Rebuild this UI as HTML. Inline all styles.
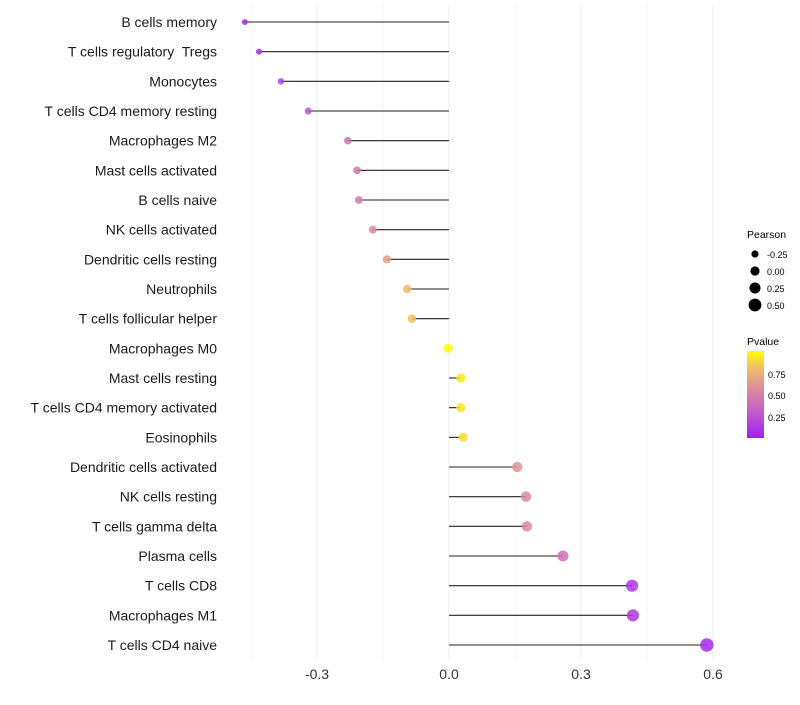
<!DOCTYPE html>
<html><head><meta charset="utf-8"><style>
body{margin:0;background:#fff;font-family:"Liberation Sans",sans-serif}
</style></head><body>
<svg id="chart" width="800" height="700" xmlns="http://www.w3.org/2000/svg" font-family="Liberation Sans, sans-serif">
<defs>
<linearGradient id="pg" x1="0" y1="1" x2="0" y2="0">
<stop offset="0" stop-color="#a020f0"/><stop offset="0.3" stop-color="#c35ccc"/><stop offset="0.55" stop-color="#d98a9e"/><stop offset="0.8" stop-color="#efbb6c"/><stop offset="1" stop-color="#ffff00"/>
</linearGradient>
</defs>
<g id="grid"></g><g id="marks"></g><g id="labels"></g>
<g font-size="10">
<text x="747" y="238" font-size="10.5">Pearson</text>
<circle cx="755" cy="254" r="3.6"/><text x="767" y="258" font-size="9">-0.25</text>
<circle cx="755" cy="271" r="4.6"/><text x="767" y="275" font-size="9">0.00</text>
<circle cx="755" cy="288" r="5.5"/><text x="767" y="292" font-size="9">0.25</text>
<circle cx="755" cy="305" r="6.4"/><text x="767" y="309" font-size="9">0.50</text>
</g>
<g>
<text x="747" y="345" font-size="10.5">Pvalue</text>
<rect x="747" y="351" width="17" height="87" fill="url(#pg)"/>
<text x="768" y="378" font-size="9">0.75</text>
<text x="768" y="399" font-size="9">0.50</text>
<text x="768" y="421" font-size="9">0.25</text>
</g>
</svg>
<script>
const categories=["B cells memory","T cells regulatory\u00a0 Tregs","Monocytes","T cells CD4 memory resting","Macrophages M2","Mast cells activated","B cells naive","NK cells activated","Dendritic cells resting","Neutrophils","T cells follicular helper","Macrophages M0","Mast cells resting","T cells CD4 memory activated","Eosinophils","Dendritic cells activated","NK cells resting","T cells gamma delta","Plasma cells","T cells CD8","Macrophages M1","T cells CD4 naive"];
const pearson=[-0.464,-0.432,-0.382,-0.320,-0.230,-0.209,-0.205,-0.173,-0.141,-0.095,-0.084,-0.002,0.027,0.027,0.032,0.155,0.175,0.177,0.259,0.416,0.418,0.586];
const pvalue=[0.04,0.08,0.15,0.25,0.42,0.45,0.46,0.55,0.65,0.8,0.82,0.99,0.93,0.92,0.9,0.6,0.55,0.55,0.42,0.1,0.12,0.05];
const tickVals=[-0.3,0.0,0.3,0.6];
const tickLabels=["-0.3","0.0","0.3","0.6"];
const NS="http://www.w3.org/2000/svg";
const x=v=>449+v*440;
const y=i=>22+i*(623/21);
const r=v=>4.6+v*3.6;
const stops=[[0,[160,32,240]],[0.3,[195,92,204]],[0.55,[217,138,158]],[0.8,[239,187,108]],[1,[255,255,0]]];
function col(p){for(let k=1;k<stops.length;k++){if(p<=stops[k][0]){const a=stops[k-1],b=stops[k],t=(p-a[0])/(b[0]-a[0]);return"rgb("+a[1].map((c,j)=>Math.round(c+(b[1][j]-c)*t)).join(",")+")";}}return"rgb(255,255,0)";}
function mk(t,at,parent){const e=document.createElementNS(NS,t);for(const k in at)e.setAttribute(k,at[k]);document.getElementById(parent).appendChild(e);return e;}
for(let g=-0.45;g<=0.61;g+=0.15){const l=mk("line",{x1:x(g),x2:x(g),y1:5,y2:660,stroke:"#ededed","stroke-width":Math.abs(Math.round(g/0.15))%2?0.6:1.0},"grid");

}
tickVals.forEach((v,i)=>{const t=mk("text",{x:x(v),y:679,"text-anchor":"middle","font-size":"14",fill:"#333"},"labels");t.textContent=tickLabels[i];

});
categories.forEach((c,i)=>{
const t=mk("text",{x:217,y:y(i)+5,"text-anchor":"end","font-size":"14",fill:"#1a1a1a"},"labels");t.textContent=c;


const l=mk("line",{x1:x(0),x2:x(pearson[i]),y1:y(i),y2:y(i),stroke:"#222","stroke-width":1.1},"marks");


const d=mk("circle",{cx:x(pearson[i]),cy:y(i),r:r(pearson[i]),fill:col(pvalue[i]),"fill-opacity":0.85},"marks");


});
</script>
</body></html>
